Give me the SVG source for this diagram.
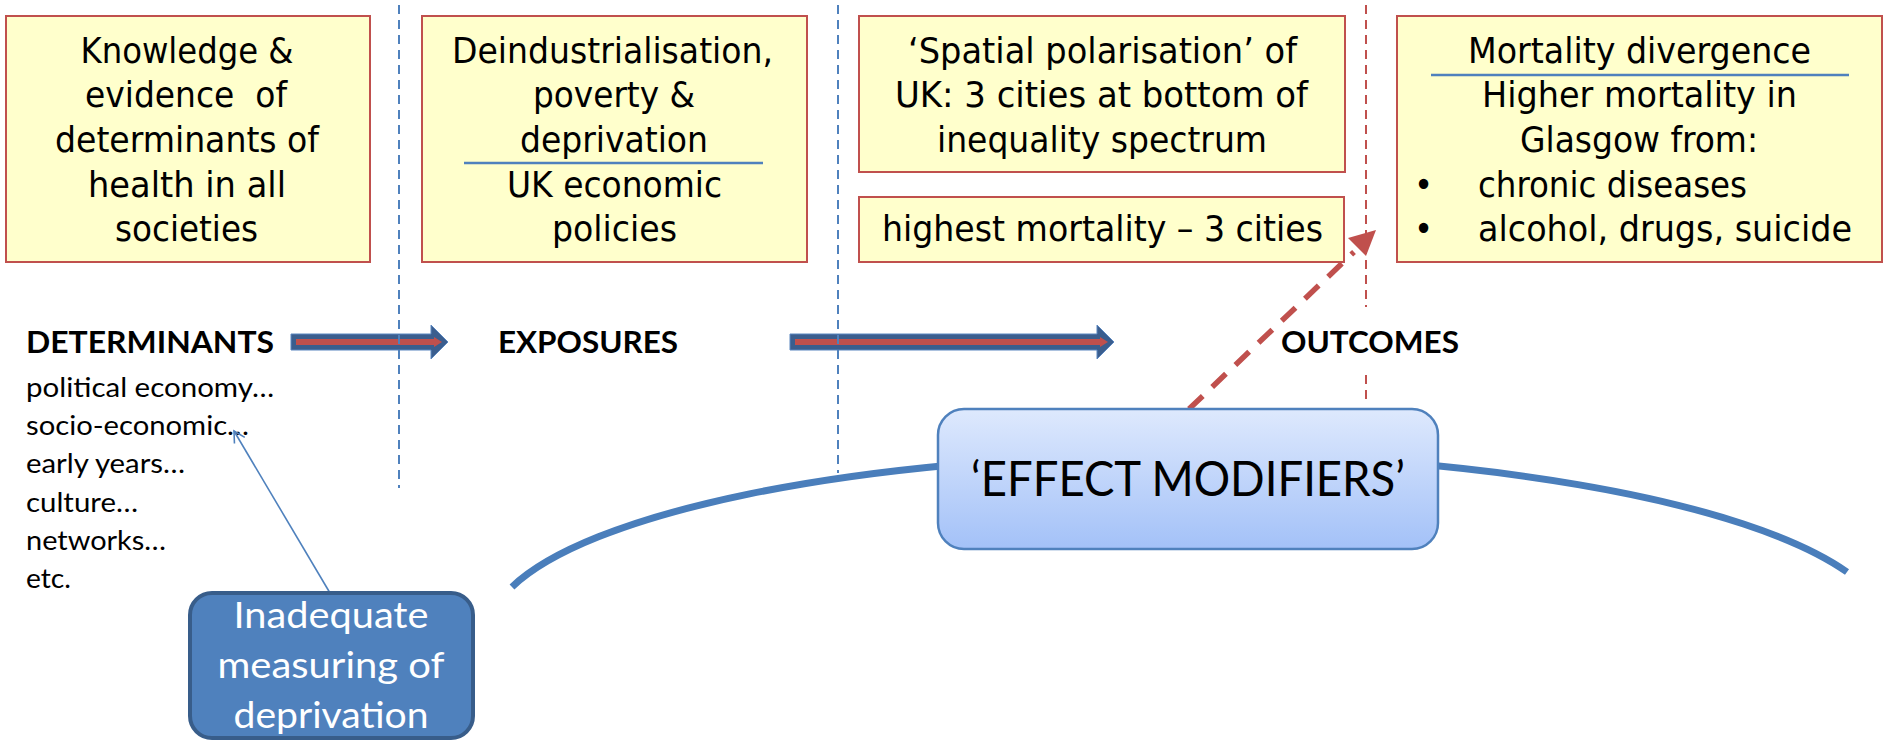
<svg xmlns="http://www.w3.org/2000/svg" width="1887" height="747" viewBox="0 0 1887 747">
<style>
.box{fill:#FFFFCC;stroke:#C0504D;stroke-width:2}
.bt{font-family:"DejaVu Sans Condensed","DejaVu Sans",sans-serif;font-size:36px;fill:#000;text-anchor:middle;white-space:pre}
.bl{font-family:"DejaVu Sans Condensed","DejaVu Sans",sans-serif;font-size:36px;fill:#000}
.div{stroke:#4F81BD;stroke-width:2.5}
.hd{font-family:Lato,"Liberation Sans",sans-serif;font-weight:bold;font-size:31px;fill:#000}
.ls{font-family:Lato,"Liberation Sans",sans-serif;font-size:27px;fill:#000}
.vdash{stroke:#4F81BD;stroke-width:2;stroke-dasharray:9 6;fill:none}
.rdash{stroke:#C0504D;stroke-width:2;stroke-dasharray:9 6;fill:none}
.blk{fill:#3B5E8E;stroke:#5A86BF;stroke-width:1}
.red{stroke:#C0504D;stroke-width:6}
</style>
<defs>
<linearGradient id="emg" x1="0" y1="0" x2="0" y2="1">
<stop offset="0" stop-color="#DEE9FD"/>
<stop offset="1" stop-color="#A3C1F8"/>
</linearGradient>
<marker id="open" markerWidth="14" markerHeight="14" refX="12" refY="7" orient="auto" markerUnits="userSpaceOnUse">
<path d="M1,1 L12,7 L1,13" fill="none" stroke="#4F81BD" stroke-width="1.6"/>
</marker>
</defs>

<!-- background arc -->
<path d="M 512 587 A 700 178 0 0 1 1847 572" fill="none" stroke="#4A7EBB" stroke-width="7"/>

<g id="box-knowledge">
<rect class="box" x="6" y="16" width="364" height="246"/>
<text class="bt" x="187" y="63" textLength="213" lengthAdjust="spacingAndGlyphs">Knowledge &amp;</text>
<text class="bt" x="186" y="107" textLength="202" lengthAdjust="spacingAndGlyphs">evidence  of</text>
<text class="bt" x="187" y="152" textLength="264" lengthAdjust="spacingAndGlyphs">determinants of</text>
<text class="bt" x="187" y="197" textLength="198" lengthAdjust="spacingAndGlyphs">health in all</text>
<text class="bt" x="186.5" y="241" textLength="143" lengthAdjust="spacingAndGlyphs">societies</text>
</g>

<g id="box-deindustrialisation">
<rect class="box" x="422" y="16" width="385" height="246"/>
<text class="bt" x="612.5" y="63" textLength="321" lengthAdjust="spacingAndGlyphs">Deindustrialisation,</text>
<text class="bt" x="614" y="107" textLength="162" lengthAdjust="spacingAndGlyphs">poverty &amp;</text>
<text class="bt" x="614" y="152" textLength="188" lengthAdjust="spacingAndGlyphs">deprivation</text>
<line class="div" x1="464" y1="163" x2="763" y2="163"/>
<text class="bt" x="614.5" y="197" textLength="215" lengthAdjust="spacingAndGlyphs">UK economic</text>
<text class="bt" x="614.5" y="241" textLength="125" lengthAdjust="spacingAndGlyphs">policies</text>
</g>

<g id="box-spatial">
<rect class="box" x="859" y="16" width="486" height="156"/>
<text class="bt" x="1102.5" y="63" textLength="389" lengthAdjust="spacingAndGlyphs">‘Spatial polarisation’ of</text>
<text class="bt" x="1101.5" y="107" textLength="413" lengthAdjust="spacingAndGlyphs">UK: 3 cities at bottom of</text>
<text class="bt" x="1102" y="152" textLength="330" lengthAdjust="spacingAndGlyphs">inequality spectrum</text>
</g>

<g id="box-highest">
<rect class="box" x="859" y="197" width="485" height="65"/>
<text class="bt" x="1102.5" y="241" textLength="441" lengthAdjust="spacingAndGlyphs">highest mortality – 3 cities</text>
</g>

<g id="box-mortality">
<rect class="box" x="1397" y="16" width="485" height="246"/>
<text class="bt" x="1639.5" y="63" textLength="343" lengthAdjust="spacingAndGlyphs">Mortality divergence</text>
<line class="div" x1="1431" y1="75" x2="1849" y2="75"/>
<text class="bt" x="1639.5" y="107" textLength="315" lengthAdjust="spacingAndGlyphs">Higher mortality in</text>
<text class="bt" x="1639" y="152" textLength="238" lengthAdjust="spacingAndGlyphs">Glasgow from:</text>
<text class="bt" x="1423.5" y="197">•</text>
<text class="bl" x="1478" y="197" textLength="269" lengthAdjust="spacingAndGlyphs">chronic diseases</text>
<text class="bt" x="1423.5" y="241">•</text>
<text class="bl" x="1478" y="241" textLength="374" lengthAdjust="spacingAndGlyphs">alcohol, drugs, suicide</text>
</g>

<g id="label-determinants">
<text class="hd" x="26" y="353" textLength="248" lengthAdjust="spacingAndGlyphs">DETERMINANTS</text>
<text class="ls" x="26" y="397" textLength="248" lengthAdjust="spacingAndGlyphs">political economy…</text>
<text class="ls" x="26" y="435" textLength="223" lengthAdjust="spacingAndGlyphs">socio-economic…</text>
<text class="ls" x="26" y="473" textLength="159" lengthAdjust="spacingAndGlyphs">early years…</text>
<text class="ls" x="26" y="512" textLength="112" lengthAdjust="spacingAndGlyphs">culture…</text>
<text class="ls" x="26" y="550" textLength="140" lengthAdjust="spacingAndGlyphs">networks…</text>
<text class="ls" x="26" y="588" textLength="45" lengthAdjust="spacingAndGlyphs">etc.</text>
</g>

<g id="label-exposures">
<text class="hd" x="498" y="353" textLength="180" lengthAdjust="spacingAndGlyphs">EXPOSURES</text>
</g>

<g id="label-outcomes">
<text class="hd" x="1281" y="353" textLength="178" lengthAdjust="spacingAndGlyphs">OUTCOMES</text>
</g>

<g id="connectors">
<!-- block arrow 1 -->
<polygon class="blk" points="291,334 431,334 431,325 448,342 431,359 431,350 291,350"/>
<line class="red" x1="296" y1="342" x2="435" y2="342"/>
<polygon points="434,337 442,342 434,347" fill="#C0504D"/>
<!-- block arrow 2 -->
<polygon class="blk" points="790,334 1097,334 1097,325 1114,342 1097,359 1097,350 790,350"/>
<line class="red" x1="795" y1="342" x2="1101" y2="342"/>
<polygon points="1100,337 1108,342 1100,347" fill="#C0504D"/>
<!-- vertical dashed separators -->
<line class="vdash" x1="399" y1="5" x2="399" y2="488"/>
<line class="vdash" x1="838" y1="5" x2="838" y2="473"/>
<line class="rdash" x1="1366" y1="5" x2="1366" y2="307"/>
<line class="rdash" x1="1366" y1="375" x2="1366" y2="405"/>
<!-- red dashed arrow -->
<line x1="1189" y1="409" x2="1354" y2="252" stroke="#C0504D" stroke-width="5.5" stroke-dasharray="19 13"/>
<polygon points="1376,230 1348,238 1366,256" fill="#C0504D"/>
<!-- thin arrow to socio-economic -->
<line x1="330" y1="593" x2="234" y2="431" stroke="#4F81BD" stroke-width="1.6" marker-end="url(#open)"/>
</g>

<g id="node-effect-modifiers">
<rect x="938" y="409" width="500" height="140" rx="26" ry="26" fill="url(#emg)" stroke="#4F81BD" stroke-width="2.5"/>
<text x="1188" y="496" font-family="Lato,'Liberation Sans',sans-serif" font-size="48" text-anchor="middle" textLength="434" lengthAdjust="spacingAndGlyphs" fill="#000">‘EFFECT MODIFIERS’</text>
</g>

<g id="node-inadequate">
<rect x="190" y="593" width="283" height="145" rx="22" ry="22" fill="#4F81BD" stroke="#385D8A" stroke-width="4"/>
<text x="331" y="628" font-family="Lato,'Liberation Sans',sans-serif" font-size="36" text-anchor="middle" textLength="195" lengthAdjust="spacingAndGlyphs" fill="#FFFFFF">Inadequate</text>
<text x="331" y="678" font-family="Lato,'Liberation Sans',sans-serif" font-size="36" text-anchor="middle" textLength="227" lengthAdjust="spacingAndGlyphs" fill="#FFFFFF">measuring of</text>
<text x="331" y="728" font-family="Lato,'Liberation Sans',sans-serif" font-size="36" text-anchor="middle" textLength="195" lengthAdjust="spacingAndGlyphs" fill="#FFFFFF">deprivation</text>
</g>
</svg>
